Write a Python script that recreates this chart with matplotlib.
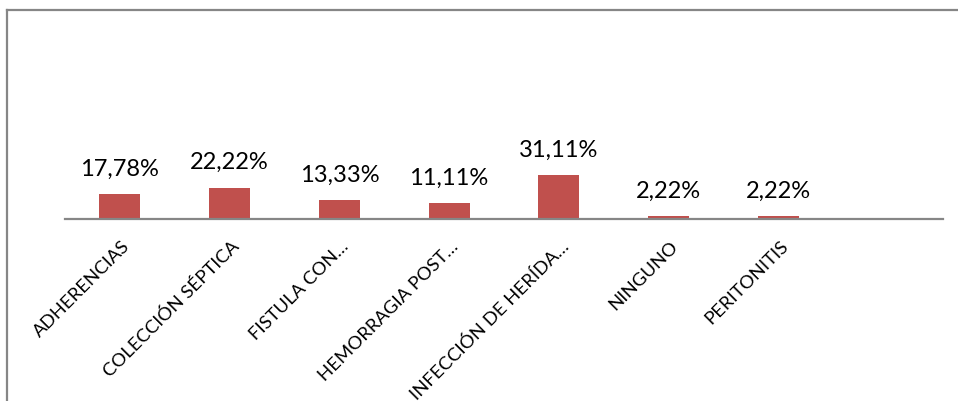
import matplotlib
matplotlib.use("Agg")
import matplotlib.pyplot as plt
from matplotlib.lines import Line2D

# Complicaciones postoperatorias (% de pacientes)
categories = [
    "ADHERENCIAS",
    "COLECCIÓN SÉPTICA",
    "FISTULA CON…",
    "HEMORRAGIA POST…",
    "INFECCIÓN DE HERÍDA…",
    "NINGUNO",
    "PERITONITIS",
    "",
]
values = [17.78, 22.22, 13.33, 11.11, 31.11, 2.22, 2.22, 0.0]
value_labels = ["17,78%", "22,22%", "13,33%", "11,11%", "31,11%", "2,22%", "2,22%", ""]

BAR_COLOR = "#C0504D"
AXIS_GRAY = "#868686"
FONT = ["Lato", "DejaVu Sans"]

W, H, DPI = 958, 402, 100
fig = plt.figure(figsize=(W / DPI, H / DPI), dpi=DPI)
fig.patch.set_facecolor("white")

# outer chart frame (only top and left edges fall inside the canvas)
fig.add_artist(Line2D([6.5 / W, 6.5 / W], [0, 1 - 10.5 / H],
                      transform=fig.transFigure, color=AXIS_GRAY, lw=1.6))
fig.add_artist(Line2D([6.5 / W, 1], [1 - 10.5 / H, 1 - 10.5 / H],
                      transform=fig.transFigure, color=AXIS_GRAY, lw=1.6))

left, right = 65 / W, 943 / W
bottom = (H - 220) / H
ax = fig.add_axes([left, bottom, right - left, 141 / H])

x = list(range(len(categories)))
ax.bar(x, values, width=0.375, color=BAR_COLOR, zorder=2)
ax.set_xlim(-0.5, len(categories) - 0.5)
ax.set_ylim(0, 100)

for s in ("top", "left", "right"):
    ax.spines[s].set_visible(False)
ax.spines["bottom"].set_color(AXIS_GRAY)
ax.spines["bottom"].set_linewidth(1.6)
ax.set_yticks([])
ax.set_xticks([])
ax.patch.set_alpha(0)

for xi, v, lab in zip(x, values, value_labels):
    if not lab:
        continue
    ax.annotate(lab, xy=(xi, v), xytext=(0, 14), textcoords="offset points",
                ha="center", va="baseline", fontsize=17, family=FONT,
                color="black", annotation_clip=False)

for xi, cat in zip(x, categories):
    if not cat:
        continue
    ax.annotate(cat, xy=(xi, 0), xycoords=("data", "axes fraction"),
                xytext=(1, -13), textcoords="offset points",
                ha="right", va="top", rotation=45, rotation_mode="anchor",
                fontsize=13.3, family=FONT, color="black", annotation_clip=False)

fig.savefig("out.png", dpi=DPI)
